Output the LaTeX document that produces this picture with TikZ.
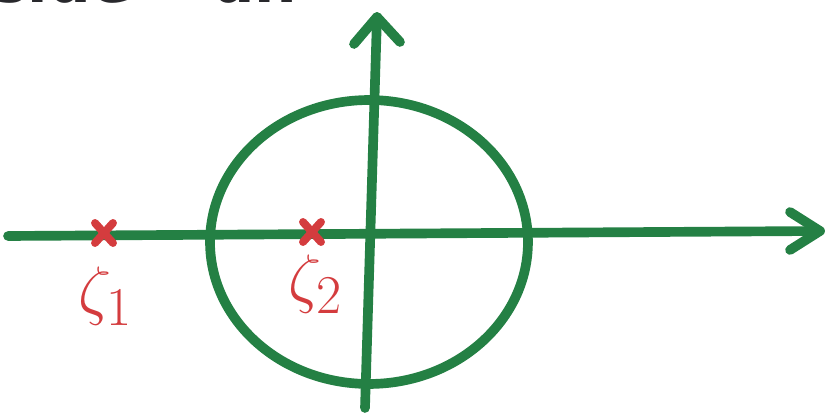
\documentclass[tikz,border=0pt]{standalone}
\usepackage{fontspec}
\usetikzlibrary{shapes.geometric,calc}
\newfontfamily\handfont{DejaVu Sans}
\definecolor{pen}{RGB}{36,128,68}
\definecolor{redpen}{RGB}{212,60,62}
\definecolor{ink}{RGB}{40,40,44}
\begin{document}
\begin{tikzpicture}[x=0.02cm,y=-0.02cm,
  axis/.style={draw=pen,line width=5.5pt,line cap=round,line join=round},
  cross/.style={draw=redpen,line width=4.5pt,line cap=round},
  lab/.style={text=redpen,font=\Huge,scale=1.5,inner sep=0pt},
  top/.style={anchor=base west,text=ink,font=\handfont\bfseries\fontsize{34}{38}\selectfont,inner sep=0pt}]
\useasboundingbox (0,0) rectangle (833,418);
\fill[white] (0,0) rectangle (833,418);
% partial top text
\node[top] (txt1) at (-8,3) {side};
\node[top] (txt2) at (212,3) {un};
% axes
\coordinate (xl) at (8,236);
\coordinate (xr) at (820,231);
\coordinate (yb) at (365,408);
\coordinate (yt) at (377,17);
\coordinate (xa1) at (790,212);
\coordinate (xa2) at (790,250);
\coordinate (ya1) at (354,44);
\coordinate (ya2) at (400,42);
\draw[axis] (xl) -- (xr);
\draw[axis] (xa1) -- (xr) -- (xa2);
\draw[axis] (yb) -- (yt);
\draw[axis] (ya1) -- (yt) -- (ya2);
% circle
\node[draw=pen,line width=5.5pt,ellipse,minimum width=6.36cm,minimum height=5.68cm,inner sep=0pt] (circ) at (369,242) {};
% zeros/poles
\coordinate (z1) at (104,233);
\coordinate (z2) at (312,232);
\draw[cross] ($(z1)+(-9,-10)$) -- ($(z1)+(9,10)$) ($(z1)+(9,-10)$) -- ($(z1)+(-9,10)$);
\draw[cross] ($(z2)+(-9,-10)$) -- ($(z2)+(9,10)$) ($(z2)+(9,-10)$) -- ($(z2)+(-9,10)$);
\node[lab] (l1) at (106,296) {$\zeta_1$};
\node[lab] (l2) at (316,284) {$\zeta_2$};
\end{tikzpicture}
\end{document}
